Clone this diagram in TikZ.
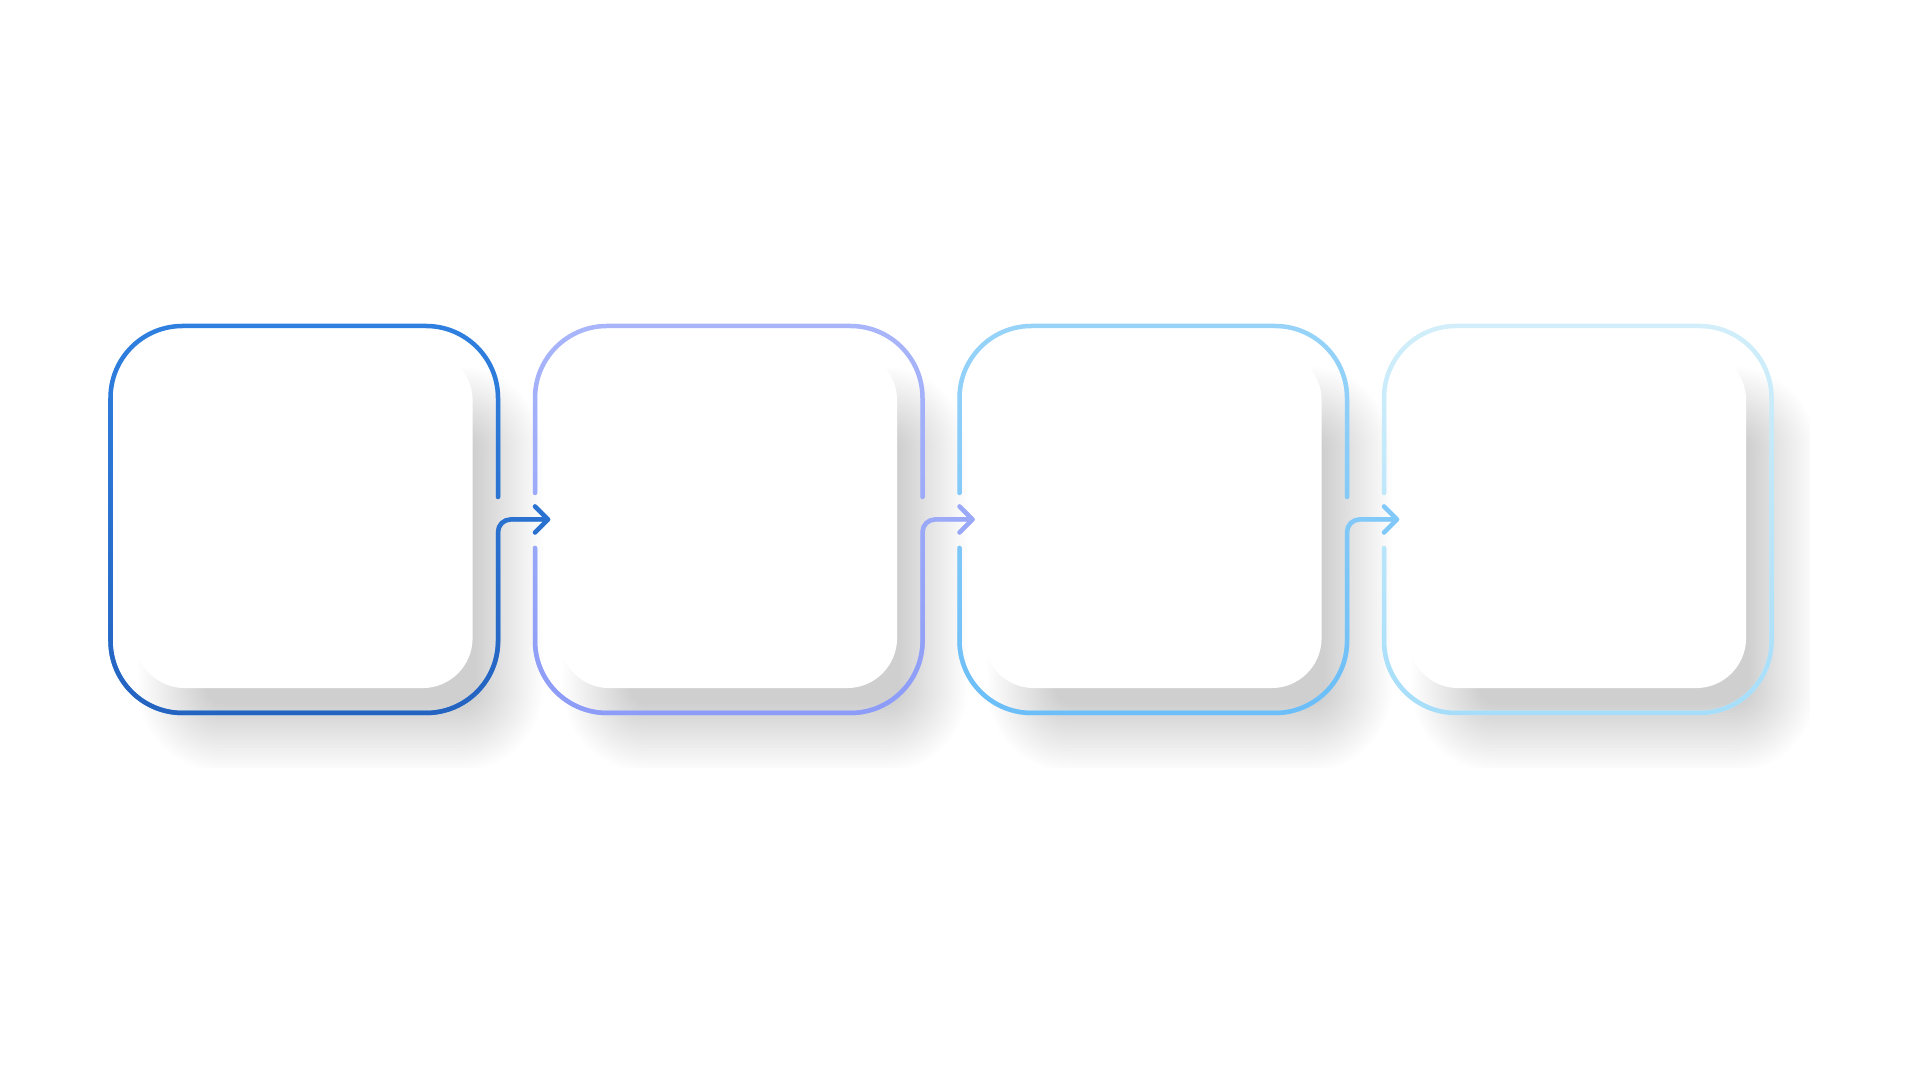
\documentclass[tikz,border=0pt]{standalone}
\usetikzlibrary{fadings}
\definecolor{deepTop}{HTML}{2F80E0}
\definecolor{deepBot}{HTML}{2563C0}
\definecolor{lavTop}{HTML}{A9B6FB}
\definecolor{lavBot}{HTML}{8D9CF7}
\definecolor{skyTop}{HTML}{98D4FA}
\definecolor{skyBot}{HTML}{6BBEF8}
\definecolor{iceTop}{HTML}{D2EFFB}
\definecolor{iceBot}{HTML}{A6DEFA}
\tikzset{
  card/.style={fill=white, rounded corners=0.5cm, minimum width=3.375cm,
    minimum height=3.375cm, inner sep=0pt},
  frame/.style={line width=0.45mm, line cap=round, line join=round}
}

\begin{document}
\begin{tikzpicture}[x=0.01cm,y=-0.01cm]
  \useasboundingbox (0,0) rectangle (1920,1080);
  % soft shadows under the cards
  \begin{scope}
    \clip (0,0) rectangle (1810,768);
    \foreach \i in {0,...,3}
      \foreach \k in {1,...,24} {
        \pgfmathsetmacro{\e}{-35+70*(\k-0.5)/24}
        \pgfmathsetmacro{\rr}{max(50+\e,2)/100}
        \fill[black, fill opacity=0.0095, rounded corners=\rr cm]
          (172+424.5*\i-\e, 400.5-\e) rectangle (509.5+424.5*\i+\e, 738+\e);
      }
  \end{scope}
  % white cards
  \foreach \i in {1,...,4}
    \node[card] (card\i) at (303.75+424.5*\i-424.5, 519.25) {};
  % frames with their arrows
  \draw[frame, deepTop, postaction={draw, deepBot, path fading=north}]
    (498,497) -- (498,398) arc[start angle=0, end angle=-90, radius=72]
    -- (182.5,326) arc[start angle=270, end angle=180, radius=72]
    -- (110.5,641) arc[start angle=180, end angle=90, radius=72]
    -- (426,713) arc[start angle=90, end angle=0, radius=72]
    -- (498,532) arc[start angle=180, end angle=270, radius=12.5] -- (548,519.5)
    (535,506.5) -- (548,519.5) -- (535,532.5);
  \foreach \L/\c in {535/lav, 959.5/sky} {
    \draw[frame, \c Top, postaction={draw, \c Bot, path fading=north}]
      (\L,493) -- (\L,398) arc[start angle=180, end angle=270, radius=72]
      -- (\L+315.5,326) arc[start angle=270, end angle=360, radius=72] -- (\L+387.5,497)
      (\L,548) -- (\L,641) arc[start angle=180, end angle=90, radius=72]
      -- (\L+315.5,713) arc[start angle=90, end angle=0, radius=72]
      -- (\L+387.5,532) arc[start angle=180, end angle=270, radius=12.5] -- (\L+437.5,519.5)
      (\L+424.5,506.5) -- (\L+437.5,519.5) -- (\L+424.5,532.5);
  }
  \draw[frame, iceTop, postaction={draw, iceBot, path fading=north}]
    (1384,493) -- (1384,398) arc[start angle=180, end angle=270, radius=72]
    -- (1699.5,326) arc[start angle=270, end angle=360, radius=72]
    -- (1771.5,641) arc[start angle=0, end angle=90, radius=72]
    -- (1456,713) arc[start angle=90, end angle=180, radius=72] -- (1384,548);
\end{tikzpicture}
\end{document}
